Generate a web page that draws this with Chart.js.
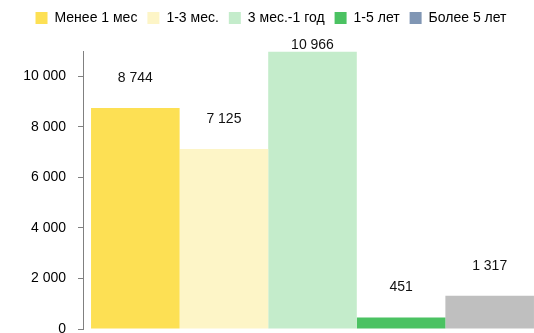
<!DOCTYPE html>
<html><head><meta charset="utf-8">
<script src="https://cdn.jsdelivr.net/npm/chart.js@4/dist/chart.umd.min.js"></script>
<style>html,body{margin:0;padding:0;overflow:hidden;background:#fff}#wrap{width:542px;height:333px;position:relative}</style>
</head><body><div id="wrap"><canvas id="c"></canvas></div>
<script>
const categories = ['Менее 1 мес', '1-3 мес.', '3 мес.-1 год', '1-5 лет', 'Более 5 лет'];
const values = [8744, 7125, 10966, 451, 1317];
const tickValues = [0, 2000, 4000, 6000, 8000, 10000];
const barColors = ['#FDE054', '#FDF5C7', '#C4ECCB', '#4BC262', '#BFBFBF'];
const legendColors = ['#FDE054', '#FDF5C7', '#C4ECCB', '#4BC262', '#8096B4'];
const fmt = v => String(v).replace(/\B(?=(\d{3})+(?!\d))/g, ' ');
const FONT = "'Liberation Sans',Arial,sans-serif";
const labelPlugin = {
  id: 'vals',
  beforeLayout(chart) {
    const lg = chart.legend;
    if (lg && !lg._patched) {
      const orig = lg.fit;
      lg.fit = function () { orig.call(this); this.height += 16; };
      lg._patched = true;
    }
  },
  afterDatasetsDraw(chart) {
    const ctx = chart.ctx;
    ctx.save();
    ctx.font = '14px ' + FONT;
    ctx.fillStyle = '#111';
    ctx.textAlign = 'center';
    ctx.textBaseline = 'middle';
    chart.data.datasets.forEach((ds, i) => {
      const el = chart.getDatasetMeta(i).data[0];
      const y = Math.max(el.y - 30, chart.chartArea.top - 6);
      ctx.fillText(fmt(ds.data[0]), el.x, y);
    });
    ctx.restore();
  }
};
new Chart(document.getElementById('c'), {
  type: 'bar',
  data: {
    labels: [''],
    datasets: categories.map((c, i) => ({
      label: c, data: [values[i]], backgroundColor: barColors[i], borderWidth: 0,
      categoryPercentage: 0.965, barPercentage: 1
    }))
  },
  options: {
    responsive: true, maintainAspectRatio: false, animation: false,
    layout: { padding: { top: 1, bottom: 4, left: 0, right: 0 } },
    plugins: {
      tooltip: { enabled: false },
      legend: {
        position: 'top', align: 'center',
        labels: {
          font: { family: FONT, size: 14 }, color: '#000', boxWidth: 12, boxHeight: 12, padding: 10,
          generateLabels: chart => chart.data.datasets.map((ds, i) => ({
            text: ds.label, fillStyle: legendColors[i], strokeStyle: legendColors[i], lineWidth: 0,
            datasetIndex: i, hidden: false
          }))
        }
      }
    },
    scales: {
      x: { display: false },
      y: {
        min: 0, max: 11000,
        afterBuildTicks: s => { s.ticks = tickValues.map(v => ({ value: v })); },
        afterFit: s => { s.width = 83; s.paddingTop = 0; s.paddingBottom = 0; },
        border: { display: true, color: '#808080', width: 1 },
        grid: { drawOnChartArea: false, drawTicks: true, tickLength: 5, tickColor: '#808080' },
        ticks: { padding: 12, color: '#000', font: { family: FONT, size: 14 }, callback: v => fmt(v) }
      }
    }
  },
  plugins: [labelPlugin]
});
</script></body></html>
